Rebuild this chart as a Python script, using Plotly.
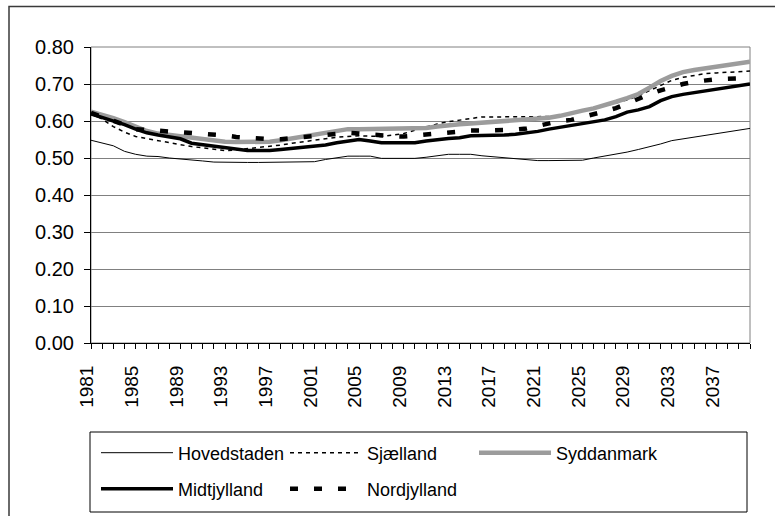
import plotly.graph_objects as go

years = list(range(1981, 2041))

hovedstaden = [0.548, 0.540, 0.533, 0.518, 0.510, 0.505, 0.504, 0.500, 0.498, 0.494,
               0.492, 0.489, 0.488, 0.488, 0.488, 0.488, 0.488, 0.488, 0.488, 0.488,
               0.490, 0.496, 0.500, 0.505, 0.505, 0.505, 0.499, 0.499, 0.499, 0.499,
               0.502, 0.507, 0.510, 0.510, 0.510, 0.506, 0.503, 0.500, 0.497, 0.494,
               0.493, 0.493, 0.493, 0.493, 0.494, 0.500, 0.505, 0.511, 0.516, 0.523,
               0.530, 0.538, 0.547, 0.552, 0.557, 0.562, 0.567, 0.570, 0.575, 0.580]

sjaelland = [0.620, 0.605, 0.585, 0.570, 0.558, 0.552, 0.546, 0.540, 0.536, 0.531,
             0.527, 0.524, 0.520, 0.522, 0.525, 0.527, 0.530, 0.535, 0.540, 0.544,
             0.550, 0.553, 0.556, 0.558, 0.560, 0.559, 0.558, 0.562, 0.566, 0.575,
             0.584, 0.592, 0.598, 0.603, 0.608, 0.611, 0.611, 0.611, 0.611, 0.611,
             0.611, 0.612, 0.615, 0.620, 0.626, 0.633, 0.641, 0.649, 0.657, 0.668,
             0.682, 0.697, 0.710, 0.718, 0.724, 0.728, 0.730, 0.732, 0.734, 0.735]

syddanmark = [0.625, 0.618, 0.608, 0.597, 0.585, 0.573, 0.566, 0.562, 0.558, 0.554,
              0.550, 0.547, 0.544, 0.543, 0.543, 0.543, 0.544, 0.548, 0.553, 0.557,
              0.563, 0.568, 0.573, 0.578, 0.578, 0.578, 0.578, 0.578, 0.579, 0.580,
              0.581, 0.585, 0.589, 0.591, 0.593, 0.595, 0.597, 0.599, 0.601, 0.603,
              0.605, 0.609, 0.614, 0.622, 0.628, 0.634, 0.642, 0.652, 0.662, 0.673,
              0.690, 0.708, 0.722, 0.732, 0.738, 0.742, 0.747, 0.752, 0.757, 0.760]

midtjylland = [0.619, 0.610, 0.600, 0.590, 0.578, 0.568, 0.562, 0.558, 0.552, 0.540,
               0.536, 0.532, 0.527, 0.523, 0.520, 0.520, 0.520, 0.523, 0.526, 0.527,
               0.530, 0.535, 0.541, 0.545, 0.550, 0.546, 0.541, 0.541, 0.541, 0.541,
               0.546, 0.550, 0.553, 0.555, 0.560, 0.561, 0.561, 0.562, 0.564, 0.567,
               0.572, 0.578, 0.583, 0.589, 0.594, 0.598, 0.603, 0.612, 0.624, 0.630,
               0.639, 0.655, 0.666, 0.672, 0.677, 0.682, 0.686, 0.691, 0.697, 0.700]

nordjylland = [0.622, 0.612, 0.600, 0.590, 0.578, 0.576, 0.575, 0.574, 0.572, 0.570,
               0.567, 0.565, 0.561, 0.557, 0.554, 0.551, 0.551, 0.551, 0.553, 0.557,
               0.559, 0.562, 0.565, 0.568, 0.566, 0.563, 0.561, 0.559, 0.558, 0.561,
               0.565, 0.568, 0.571, 0.573, 0.574, 0.574, 0.574, 0.575, 0.577, 0.580,
               0.587, 0.595, 0.600, 0.603, 0.610, 0.618, 0.626, 0.635, 0.648, 0.660,
               0.672, 0.683, 0.692, 0.700, 0.706, 0.710, 0.713, 0.714, 0.715, 0.716]

FONT = "Liberation Sans, Arial, sans-serif"

fig = go.Figure()
fig.add_trace(go.Scatter(x=years, y=hovedstaden, name="Hovedstaden", mode="lines",
                         line=dict(color="black", width=1), legend="legend"))
fig.add_trace(go.Scatter(x=years, y=sjaelland, name="Sjælland", mode="lines",
                         line=dict(color="black", width=1.5, dash="4px,4px"), legend="legend"))
fig.add_trace(go.Scatter(x=years, y=syddanmark, name="Syddanmark", mode="lines",
                         line=dict(color="#9c9c9c", width=4.5), legend="legend"))
fig.add_trace(go.Scatter(x=years, y=midtjylland, name="Midtjylland", mode="lines",
                         line=dict(color="black", width=3.5), legend="legend2"))
fig.add_trace(go.Scatter(x=years, y=nordjylland, name="Nordjylland", mode="lines",
                         line=dict(color="black", width=4.5, dash="8px,16px"), legend="legend2"))

leg_common = dict(orientation="h", xref="container", yref="container",
                  x=96 / 775, xanchor="left", yanchor="middle",
                  font=dict(family=FONT, size=18, color="black"),
                  itemwidth=72, entrywidth=102, borderwidth=0,
                  bgcolor="rgba(0,0,0,0)", traceorder="normal")

fig.update_layout(
    width=775, height=516,
    margin=dict(l=91, r=25, t=47, b=173),
    paper_bgcolor="white", plot_bgcolor="white",
    font=dict(family=FONT, size=19, color="black"),
    showlegend=True,
    legend=dict(y=1 - 453 / 516, **leg_common),
    legend2=dict(y=1 - 489 / 516, **leg_common),
    xaxis=dict(range=[1981, 2040], tick0=1981, dtick=4, tickangle=-90,
               ticks="outside", ticklen=5, tickcolor="black",
               showline=True, linecolor="black", linewidth=1,
               showgrid=False, zeroline=False,
               minor=dict(dtick=1, tick0=1981, ticks="outside", ticklen=5, tickcolor="black"),
               tickfont=dict(family=FONT, size=19), ticklabelshift=-4,
               ticklabelstandoff=9),
    yaxis=dict(range=[0, 0.8], dtick=0.1, tickformat=".2f",
               ticks="outside", ticklen=6, tickcolor="black",
               showline=True, linecolor="black", linewidth=1,
               showgrid=True, gridcolor="#808080", gridwidth=1, zeroline=False,
               tickfont=dict(family=FONT, size=20), ticklabelstandoff=6),
    shapes=[
        dict(type="rect", xref="paper", yref="paper", x0=0, x1=1, y0=0, y1=1,
             line=dict(color="#808080", width=1), layer="below"),
        dict(type="rect", xref="paper", yref="paper",
             x0=(90 - 91) / 659, x1=(747 - 91) / 659,
             y0=(343 - 512) / 296, y1=(343 - 432) / 296,
             line=dict(color="black", width=1)),
        dict(type="rect", xref="paper", yref="paper",
             x0=(9 - 91) / 659, x1=(790 - 91) / 659,
             y0=(343 - 530) / 296, y1=(343 - 6.5) / 296,
             line=dict(color="#3a3a3a", width=1.5)),
    ],
)

fig.write_html("out.html", config={"displayModeBar": False},
               post_script="document.body.style.margin='0';")
